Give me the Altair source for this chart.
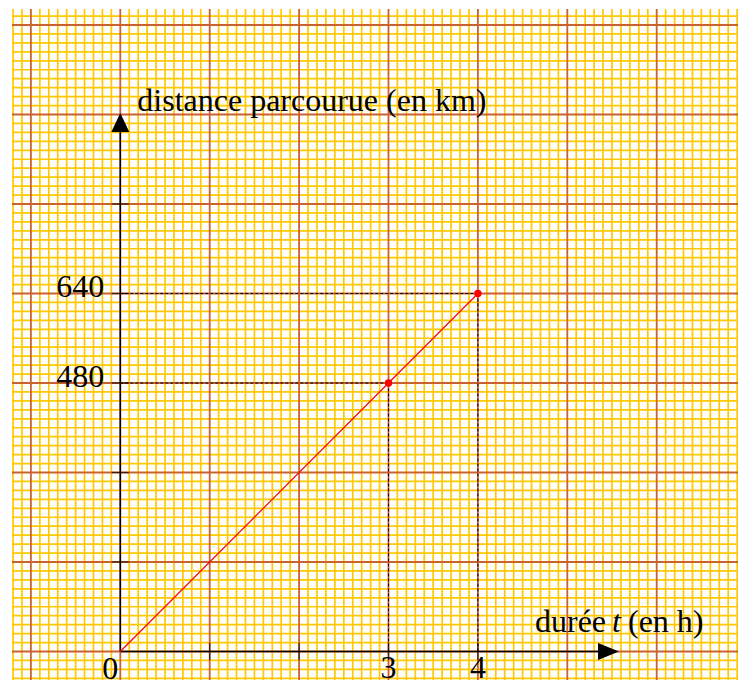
import altair as alt
import numpy as np
import pandas as pd

# ---- data ----
durations = [0, 3, 4]          # h
distances = [0, 480, 640]      # km
x_tick_values = [1, 2, 3, 4]
y_tick_values = [160, 320, 480, 640, 800]
x_labels = ["3", "4"]
x_label_pos = [3, 4]
y_labels = ["480", "640"]
y_label_pos = [480, 640]
origin_label = "0"
y_title = "distance parcourue (en km)"
x_title_parts = ["durée", "t", "(en h)"]

# ---- scales (graph paper) ----
X_DOMAIN = [-1.2114, 6.9094]
Y_DOMAIN = [-50.95, 1148.6]
xs = alt.Scale(domain=X_DOMAIN, nice=False, zero=False)
ys = alt.Scale(domain=Y_DOMAIN, nice=False, zero=False)


def X(f):
    return alt.X(f, type="quantitative", scale=xs, axis=None)


def Y(f):
    return alt.Y(f, type="quantitative", scale=ys, axis=None)


YELLOW = "#FFC800"
RED_GRID = "#C9622F"
SERIF = "Liberation Serif"
FS = 32

kx = np.arange(-12, 71)
ky = np.arange(-4, 73)
vminor = pd.DataFrame({"x": kx[kx % 10 != 0] / 10})
vmajor = pd.DataFrame({"x": kx[kx % 10 == 0] / 10})
hminor = pd.DataFrame({"y": ky[ky % 10 != 0] * 16.0})
hmajor = pd.DataFrame({"y": ky[ky % 10 == 0] * 16.0})

grid = [
    alt.Chart(hminor).mark_rule(color=YELLOW, strokeWidth=1.7).encode(y=Y("y")),
    alt.Chart(vminor).mark_rule(color=YELLOW, strokeWidth=1.7).encode(x=X("x")),
    alt.Chart(hmajor).mark_rule(color=RED_GRID, strokeWidth=1.8).encode(y=Y("y")),
    alt.Chart(vmajor).mark_rule(color=RED_GRID, strokeWidth=1.8).encode(x=X("x")),
]

# axes
yaxis = alt.Chart(pd.DataFrame({"x": [0], "y": [0], "y2": [928.6]})).mark_rule(
    color="black", strokeWidth=1.5).encode(x=X("x"), y=Y("y"), y2="y2")
xaxis = alt.Chart(pd.DataFrame({"x": [0], "x2": [5.343], "y": [0]})).mark_rule(
    color="black", strokeWidth=1.5).encode(x=X("x"), x2="x2", y=Y("y"))
yarrow = alt.Chart(pd.DataFrame({"x": [0], "y": [945.7]})).mark_point(
    shape="M0,-1.056L1,1.056L-1,1.056Z", size=324, filled=True, color="black",
    opacity=1, strokeWidth=0).encode(x=X("x"), y=Y("y"))
xarrow = alt.Chart(pd.DataFrame({"x": [5.461], "y": [0]})).mark_point(
    shape="M1.167,0L-1.167,-0.944L-1.167,0.944Z", size=324, filled=True,
    color="black", opacity=1, strokeWidth=0).encode(x=X("x"), y=Y("y"))

yticks = alt.Chart(pd.DataFrame({"x": [0] * len(y_tick_values), "y": y_tick_values})).mark_tick(
    orient="horizontal", size=17, thickness=1.3, color="black").encode(x=X("x"), y=Y("y"))
xticks = alt.Chart(pd.DataFrame({"x": x_tick_values, "y": [0] * len(x_tick_values)})).mark_tick(
    orient="vertical", size=17, thickness=1.3, color="black").encode(x=X("x"), y=Y("y"))

# function line and points
pts = pd.DataFrame({"t": durations, "d": distances})
line = alt.Chart(pts).mark_line(color="red", strokeWidth=1.2).encode(x=X("t"), y=Y("d"))
dots = alt.Chart(pts[pts.t > 0]).mark_circle(color="red", size=55, opacity=1).encode(
    x=X("t"), y=Y("d"))
guides_df = pts[pts.t > 0].assign(z=0)
hguides = alt.Chart(guides_df).mark_rule(color="black", strokeWidth=1, strokeDash=[3, 2]).encode(
    x=X("z"), x2="t", y=Y("d"))
vguides = alt.Chart(guides_df).mark_rule(color="black", strokeWidth=1, strokeDash=[3, 2]).encode(
    x=X("t"), y=Y("z"), y2="d")

# labels
xl = alt.Chart(pd.DataFrame({"x": x_label_pos, "y": [0, 0], "t": x_labels})).mark_text(
    font=SERIF, fontSize=FS, color="black", align="center", baseline="alphabetic", dy=27
).encode(x=X("x"), y=Y("y"), text="t")
ol = alt.Chart(pd.DataFrame({"x": [0], "y": [0], "t": [origin_label]})).mark_text(
    font=SERIF, fontSize=FS, color="black", align="center", baseline="alphabetic", dx=-10, dy=28
).encode(x=X("x"), y=Y("y"), text="t")
yl = alt.Chart(pd.DataFrame({"x": [0, 0], "y": y_label_pos, "t": y_labels})).mark_text(
    font=SERIF, fontSize=FS, color="black", align="right", baseline="alphabetic", dx=-16, dy=4
).encode(x=X("x"), y=Y("y"), text="t")
yt = alt.Chart(pd.DataFrame({"x": [0], "y": [960], "t": [y_title]})).mark_text(
    font=SERIF, fontSize=FS, color="black", align="left", baseline="alphabetic", dx=17, dy=-3.5
).encode(x=X("x"), y=Y("y"), text="t")
xt1 = alt.Chart(pd.DataFrame({"x": [5.0], "y": [0], "t": [x_title_parts[0]]})).mark_text(
    font=SERIF, fontSize=FS, color="black", align="left", baseline="alphabetic", dx=-32.3, dy=-19.5
).encode(x=X("x"), y=Y("y"), text="t")
xt2 = alt.Chart(pd.DataFrame({"x": [5.0], "y": [0], "t": [x_title_parts[1]]})).mark_text(
    font=SERIF, fontSize=FS, fontStyle="italic", color="black", align="left",
    baseline="alphabetic", dx=44.7, dy=-19.5
).encode(x=X("x"), y=Y("y"), text="t")
xt3 = alt.Chart(pd.DataFrame({"x": [5.0], "y": [0], "t": [x_title_parts[2]]})).mark_text(
    font=SERIF, fontSize=FS, color="black", align="left", baseline="alphabetic", dx=60.7, dy=-19.5
).encode(x=X("x"), y=Y("y"), text="t")

chart = alt.layer(
    *grid, hguides, vguides, yaxis, xaxis, yticks, xticks, yarrow, xarrow,
    line, dots, xl, ol, yl, yt, xt1, xt2, xt3
).properties(
    width=726, height=671, autosize="none",
    padding={"left": 4, "top": 1, "right": 0, "bottom": 0},
    background="white",
).configure_view(stroke=None)

chart.save("out.html", embed_options={"renderer": "svg", "actions": False})
